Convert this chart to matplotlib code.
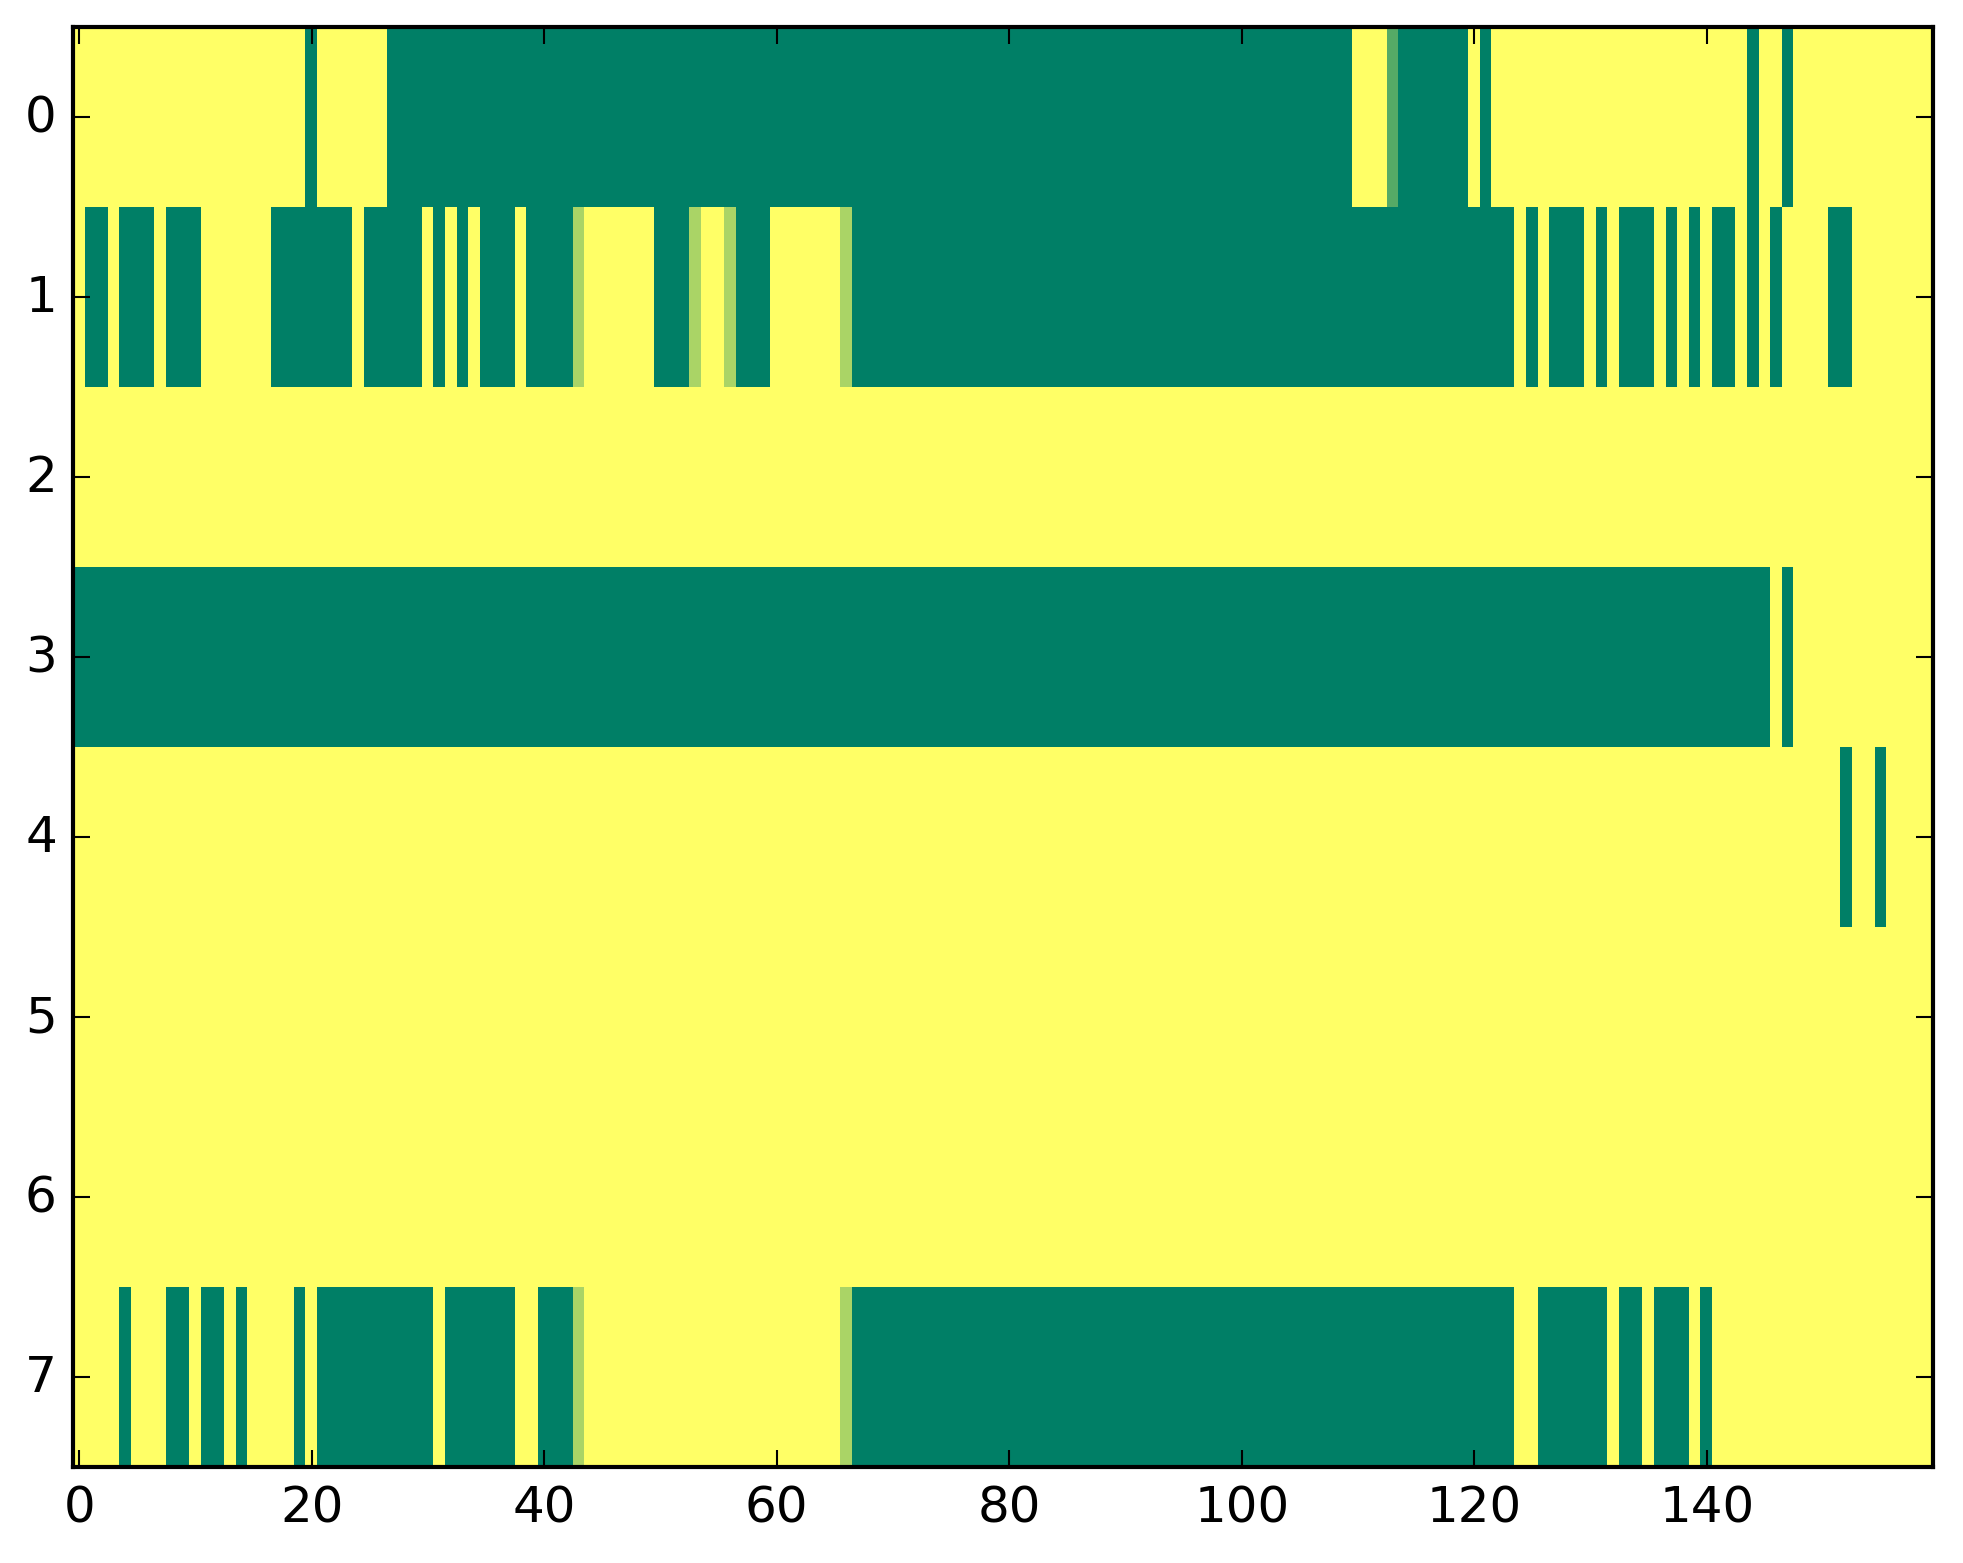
import numpy as np
import matplotlib
matplotlib.use('Agg')
import matplotlib.pyplot as plt

# cell codes: 0 = dark green, 1 = mid green, 2 = light green, 3 = yellow
row0 = ("3333333333 3333333333 0333333000 0000000000 0000000000 0000000000 "
        "0000000000 0000000000 0000000000 0000000000 0000000000 3331000000 "
        "3033333333 3333333333 3333033033 3333333333")
row1 = ("3003000300 0333333000 0000300000 3030300030 0002333333 0002332000 "
        "3333332000 0000000000 0000000000 0000000000 0000000000 0000000000 "
        "0000303000 3030003030 3003030333 3003333333")
row2 = ("3333333333 3333333333 3333333333 3333333333 3333333333 3333333333 "
        "3333333333 3333333333 3333333333 3333333333 3333333333 3333333333 "
        "3333333333 3333333333 3333333333 3333333333")
row3 = ("0000000000 0000000000 0000000000 0000000000 0000000000 0000000000 "
        "0000000000 0000000000 0000000000 0000000000 0000000000 0000000000 "
        "0000000000 0000000000 0000003033 3333333333")
row4 = ("3333333333 3333333333 3333333333 3333333333 3333333333 3333333333 "
        "3333333333 3333333333 3333333333 3333333333 3333333333 3333333333 "
        "3333333333 3333333333 3333333333 3303303333")
row5 = row2
row6 = row2
row7 = ("3333033300 3003033330 3000000000 0300000033 0002333333 3333333333 "
        "3333332000 0000000000 0000000000 0000000000 0000000000 0000000000 "
        "0000330000 0030030003 0333333333 3333333333")

rows = [row0, row1, row2, row3, row4, row5, row6, row7]
xticks = [0, 20, 40, 60, 80, 100, 120, 140]
yticks = [0, 1, 2, 3, 4, 5, 6, 7]

grid = np.array([[int(c) for c in r.replace(' ', '')] for r in rows], dtype=float)

plt.style.use('classic')
fig = plt.figure(figsize=(1963 / 300, 1564 / 300), dpi=300, facecolor='white')
ax = fig.add_axes([0.03744, 0.0614, 0.9475, 0.9205])
ax.imshow(grid, cmap='summer', vmin=0, vmax=3, interpolation='nearest', aspect='auto')
ax.set_xticks(xticks)
ax.set_yticks(yticks)
ax.set_xlim(-0.5, grid.shape[1] - 0.5)
ax.set_ylim(grid.shape[0] - 0.5, -0.5)
ax.tick_params(labelsize=12)

fig.savefig('out.png', dpi=300, facecolor='white')
